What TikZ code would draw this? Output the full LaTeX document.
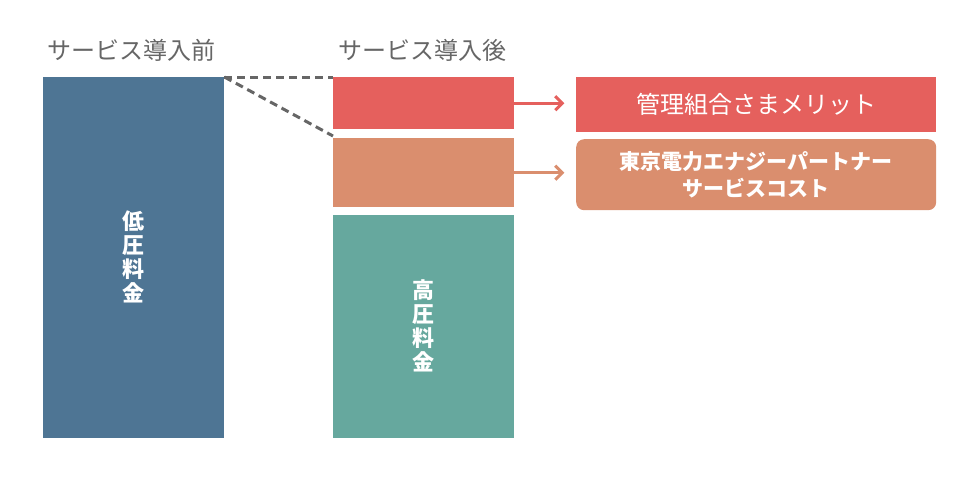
\documentclass[tikz,border=0pt]{standalone}
\usepackage{fontspec}
\setmainfont{Noto Sans CJK JP}
\usepackage{xcolor}
\usetikzlibrary{arrows.meta,positioning}

\definecolor{lowblue}{HTML}{4E7594}
\definecolor{meritred}{HTML}{E5605D}
\definecolor{costorange}{HTML}{DA8E6E}
\definecolor{highteal}{HTML}{66A89E}
\definecolor{titlegray}{HTML}{666666}

\begin{document}
\begin{tikzpicture}[x=1pt,y=-1pt,
	bar/.style={rectangle,anchor=north west,inner sep=0pt,text=white,font=\bfseries\fontsize{22}{24}\selectfont,align=center},
	caption/.style={anchor=center,text=titlegray,font=\fontsize{24}{26}\selectfont},
	flow/.style={line width=3pt,-{Straight Barb[length=7pt,width=14pt,line width=3pt]}}]
	\useasboundingbox (0,0) rectangle (980,480);

	% titles
	\node[caption] (tbefore) at (131,50) {サービス導入前};
	\node[caption] (tafter) at (422,50) {サービス導入後};

	% before
	\node[bar,fill=lowblue,minimum width=181pt,minimum height=361pt] (low) at (43,77) {};
	\node[bar] (lowtext) at ([yshift=-180pt]low.north) [anchor=center] {低\\圧\\料\\金};

	% after
	\node[bar,fill=meritred,minimum width=181pt,minimum height=52pt] (merit) at (333,77) {};
	\node[bar,fill=costorange,minimum width=181pt,minimum height=69pt] (cost) at (333,138) {};
	\node[bar,fill=highteal,minimum width=181pt,minimum height=223pt] (high) at (333,215) {};
	\node[bar] (hightext) at ([yshift=-111pt]high.north) [anchor=center] {高\\圧\\料\\金};

	% result boxes
	\node[bar,fill=meritred,minimum width=360pt,minimum height=55pt] (meritbox) at (576,77) {};
	\node[text=white,font=\fontsize{24}{26}\selectfont] (merittext) at (meritbox.center) {管理組合さまメリット};
	\node[bar,fill=costorange,minimum width=360pt,minimum height=71pt,rounded corners=8pt] (costbox) at (576,139) {};
	\node[text=white,font=\bfseries\fontsize{21}{27}\selectfont,align=center] (costtext) at (costbox.center) {東京電力エナジーパートナー\\サービスコスト};

	% dashed guides
	\draw[titlegray,line width=3pt,dash pattern=on 8pt off 5pt] (low.north east) -- (merit.north west);
	\draw[titlegray,line width=3pt,dash pattern=on 8pt off 5pt] (low.north east) -- ([yshift=2pt]cost.north west);

	% arrows
	\draw[flow,meritred] (merit.east) -- ++(50,0) coordinate (mend);
	\draw[flow,costorange] (cost.east) -- ++(50,0) coordinate (cend);
\end{tikzpicture}
\end{document}
